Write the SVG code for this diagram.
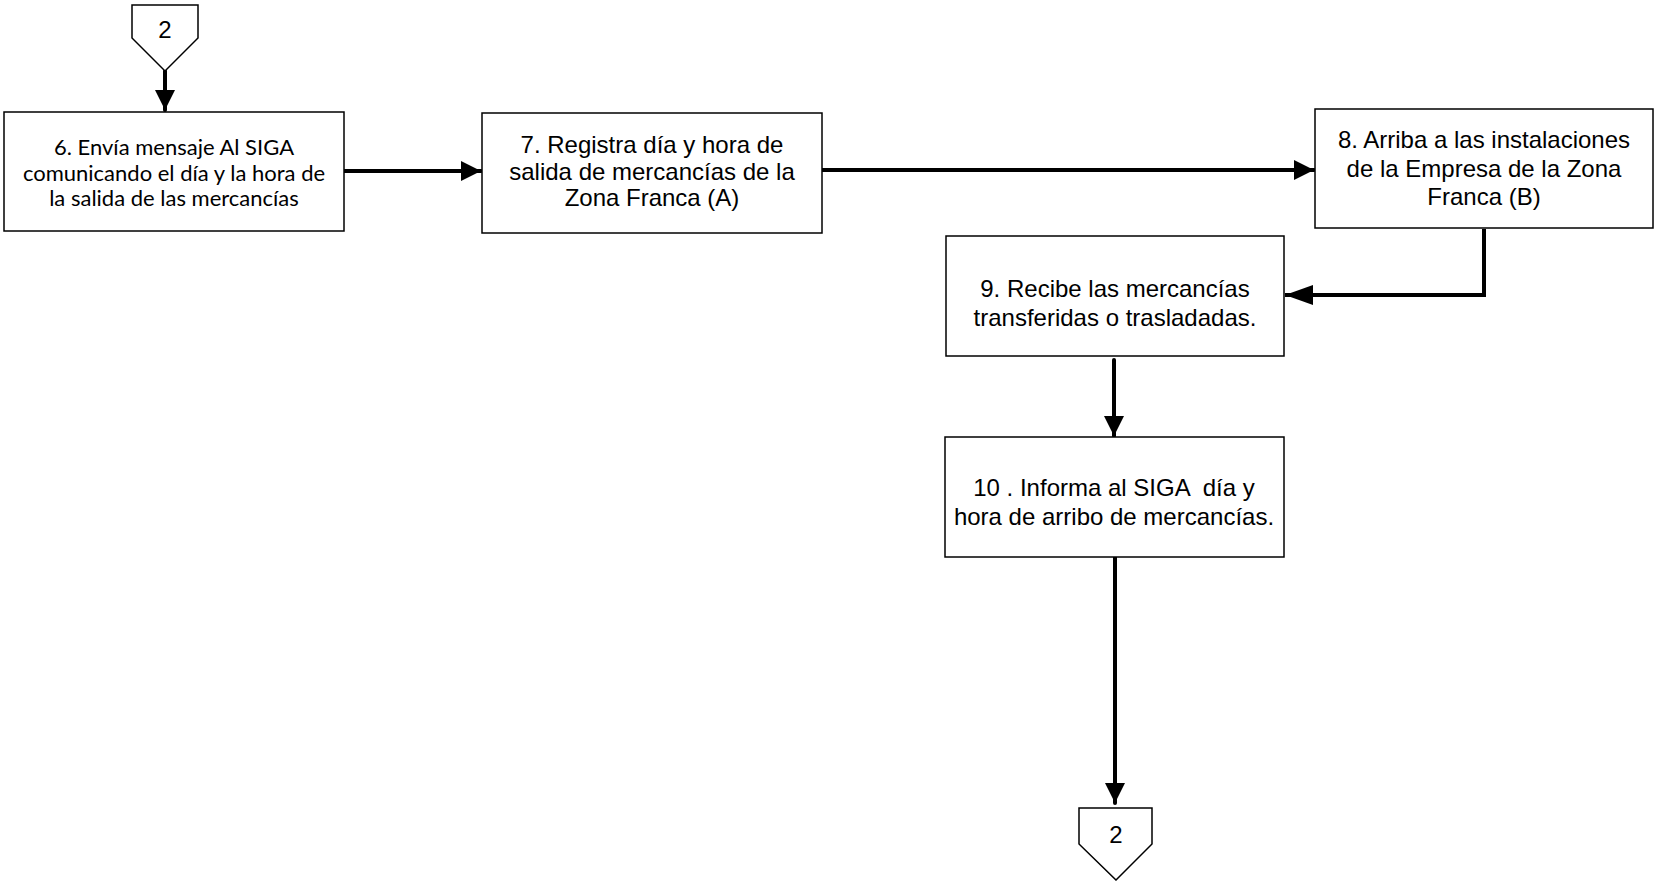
<svg xmlns="http://www.w3.org/2000/svg" width="1655" height="881" viewBox="0 0 1655 881">
<style>
.box{fill:#fff;stroke:#000;stroke-width:1.5}
.t{font-family:"Liberation Sans",Arial,sans-serif;font-size:24px;fill:#000;text-anchor:middle}
.c{font-family:Lato,"Open Sans",sans-serif;font-size:22px;fill:#000;text-anchor:middle}
.ln{fill:none;stroke:#000;stroke-width:4;stroke-linecap:round;stroke-linejoin:miter}
</style>
<defs>
<marker id="ah" markerUnits="userSpaceOnUse" markerWidth="20" markerHeight="20" refX="20" refY="10" orient="auto" viewBox="0 0 20 20">
<path d="M0,0 L20,10 L0,20 z" fill="#000"/>
</marker>
<marker id="ahl" markerUnits="userSpaceOnUse" markerWidth="28" markerHeight="20" refX="28" refY="10" orient="auto" viewBox="0 0 28 20">
<path d="M0,0 L28,10 L0,20 z" fill="#000"/>
</marker>
</defs>
<g id="connectors">
<path class="ln" d="M165,71 L165,110" marker-end="url(#ah)"/>
<path class="ln" d="M344,171 L481,171" marker-end="url(#ah)"/>
<path class="ln" d="M822,170 L1314,170" marker-end="url(#ah)"/>
<path class="ln" d="M1484,229 L1484,295 L1285,295" marker-end="url(#ahl)" style="stroke-linecap:butt"/>
<path class="ln" d="M1114,360 L1114,436" marker-end="url(#ah)"/>
<path class="ln" d="M1115,557 L1115,803" marker-end="url(#ah)"/>
</g>
<g id="conn-top">
<polygon class="box" points="132,5 198,5 198,38 165,71 132,38"/>
<text class="t" x="165" y="38">2</text>
</g>
<g id="n6">
<rect class="box" x="4" y="112" width="340" height="119"/>
<text class="c" x="174" y="155">6. Envía mensaje Al SIGA</text>
<text class="c" x="174" y="181">comunicando el día y la hora de</text>
<text class="c" x="174" y="206">la salida de las mercancías</text>
</g>
<g id="n7">
<rect class="box" x="482" y="113" width="340" height="120"/>
<text class="t" x="652" y="153">7. Registra día y hora de</text>
<text class="t" x="652" y="180">salida de mercancías de la</text>
<text class="t" x="652" y="206">Zona Franca (A)</text>
</g>
<g id="n8">
<rect class="box" x="1315" y="109" width="338" height="119"/>
<text class="t" x="1484" y="148">8. Arriba a las instalaciones</text>
<text class="t" x="1484" y="177">de la Empresa de la Zona</text>
<text class="t" x="1484" y="205">Franca (B)</text>
</g>
<g id="n9">
<rect class="box" x="946" y="236" width="338" height="120"/>
<text class="t" x="1115" y="297">9. Recibe las mercancías</text>
<text class="t" x="1115" y="326">transferidas o trasladadas.</text>
</g>
<g id="n10">
<rect class="box" x="945" y="437" width="339" height="120"/>
<text class="t" x="1114" y="496" xml:space="preserve">10 . Informa al SIGA  día y</text>
<text class="t" x="1114" y="525">hora de arribo de mercancías.</text>
</g>
<g id="conn-bottom">
<polygon class="box" points="1079,808 1152,808 1152,844 1116,880 1079,844"/>
<text class="t" x="1116" y="843">2</text>
</g>
</svg>
